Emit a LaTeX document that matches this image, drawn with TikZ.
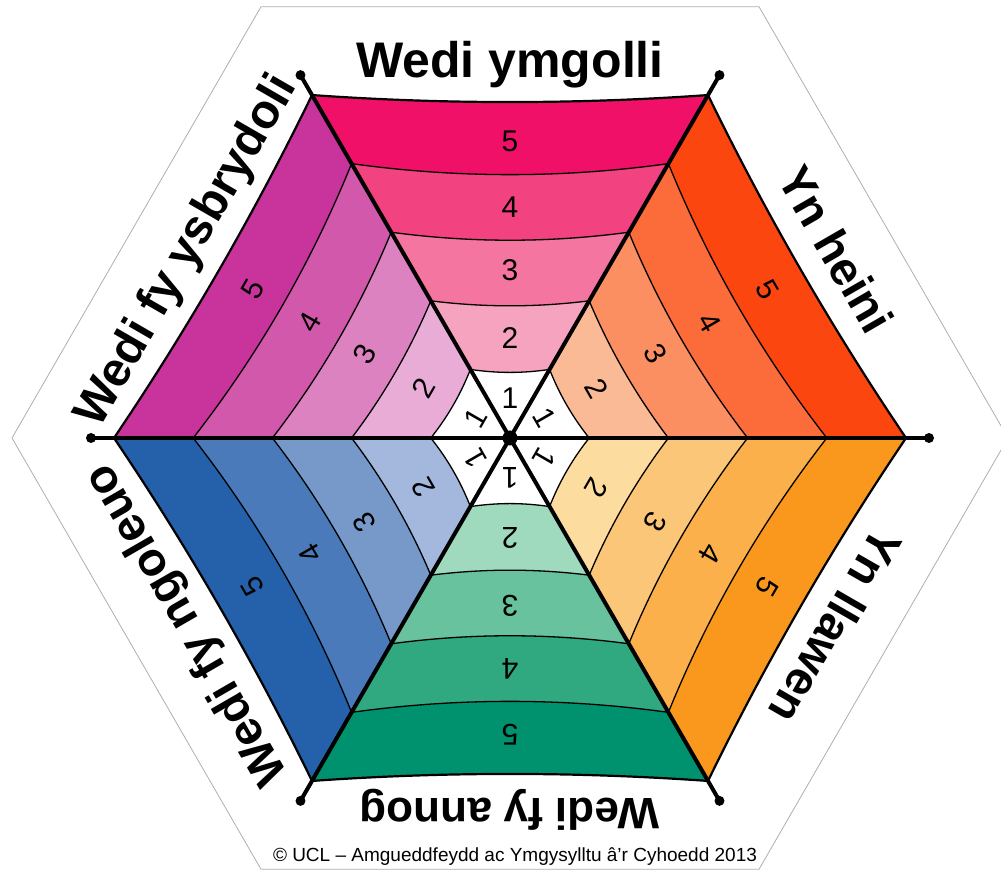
\documentclass[tikz,border=0pt]{standalone}
\usepackage{fontspec}
\setmainfont{Liberation Sans}
\usetikzlibrary{calc}
\definecolor{hexgray}{RGB}{175,175,175}
% sector 0: Yn heini
\definecolor{col05}{RGB}{252,70,16}
\definecolor{col04}{RGB}{252,108,58}
\definecolor{col03}{RGB}{251,143,98}
\definecolor{col02}{RGB}{250,186,150}
% sector 1: Wedi ymgolli
\definecolor{col15}{RGB}{240,16,104}
\definecolor{col14}{RGB}{242,66,128}
\definecolor{col13}{RGB}{243,117,160}
\definecolor{col12}{RGB}{246,163,192}
% sector 2: Wedi fy ysbrydoli
\definecolor{col25}{RGB}{200,52,156}
\definecolor{col24}{RGB}{210,88,172}
\definecolor{col23}{RGB}{220,130,192}
\definecolor{col22}{RGB}{232,172,215}
% sector 3: Wedi fy ngoleuo
\definecolor{col35}{RGB}{37,96,170}
\definecolor{col34}{RGB}{74,122,186}
\definecolor{col33}{RGB}{118,153,202}
\definecolor{col32}{RGB}{163,184,220}
% sector 4: Wedi fy annog
\definecolor{col45}{RGB}{0,145,110}
\definecolor{col44}{RGB}{48,168,128}
\definecolor{col43}{RGB}{104,194,158}
\definecolor{col42}{RGB}{160,218,190}
% sector 5: Yn llawen
\definecolor{col55}{RGB}{250,152,30}
\definecolor{col54}{RGB}{251,176,76}
\definecolor{col53}{RGB}{252,198,120}
\definecolor{col52}{RGB}{253,220,160}
\definecolor{col01}{RGB}{255,255,255}
\definecolor{col11}{RGB}{255,255,255}
\definecolor{col21}{RGB}{255,255,255}
\definecolor{col31}{RGB}{255,255,255}
\definecolor{col41}{RGB}{255,255,255}
\definecolor{col51}{RGB}{255,255,255}
\begin{document}
\begin{tikzpicture}[x=1pt,y=1pt,
  bandline/.style={line width=1.3pt, line join=round},
  rimline/.style={line width=2.2pt, line join=round},
  spokeline/.style={line width=4pt},
  dotnode/.style={circle, fill=black, inner sep=0pt, minimum size=10pt},
  centerdot/.style={circle, fill=black, inner sep=0pt, minimum size=15pt},
  numtext/.style={font=\fontsize{30}{30}\selectfont, inner sep=0pt},
  cattext/.style={inner sep=0pt, anchor=base},
  copytext/.style={font=\fontsize{19}{19}\selectfont, inner sep=0pt}
]
\useasboundingbox (-510,-434) rectangle (491,438);
\draw[line width=0.8pt, draw=hexgray, fill=white]
  (0:498) -- (60:498) -- (120:498) -- (180:498) -- (240:498) -- (300:498) -- cycle;

% fills
\foreach \i in {0,...,5}{
  \pgfmathsetmacro{\a}{60*\i}
  \pgfmathsetmacro{\b}{60*\i+60}
  \pgfmathsetmacro{\m}{60*\i+30}
  \foreach \k/\s in {5/7,4/11,3/8,2/5,1/3}{
    \pgfmathsetmacro{\r}{79.2*\k}
    \pgfmathsetmacro{\c}{\r*cos(30)-2*\s}
    \fill[col\i\k] (0,0) -- (\a:\r) .. controls ($(\a:\r)!2/3!(\m:\c)$) and ($(\b:\r)!2/3!(\m:\c)$) .. (\b:\r) -- cycle;
  }
  \foreach \k/\s in {1/3,2/5,3/8,4/11}{
    \pgfmathsetmacro{\r}{79.2*\k}
    \pgfmathsetmacro{\c}{\r*cos(30)-2*\s}
    \draw[bandline] (\a:\r) .. controls ($(\a:\r)!2/3!(\m:\c)$) and ($(\b:\r)!2/3!(\m:\c)$) .. (\b:\r);
  }
  \pgfmathsetmacro{\r}{396}
  \pgfmathsetmacro{\c}{\r*cos(30)-14}
  \draw[rimline] (\a:\r) .. controls ($(\a:\r)!2/3!(\m:\c)$) and ($(\b:\r)!2/3!(\m:\c)$) .. (\b:\r);
}

% spokes and dots
\foreach \i in {0,...,5}{
  \pgfmathsetmacro{\a}{60*\i}
  \coordinate (p\i) at (\a:419);
}
\draw[spokeline] (p0) -- (p3);
\draw[spokeline] (p1) -- (p4);
\draw[spokeline] (p2) -- (p5);
\foreach \i in {0,...,5}{
  \node[dotnode] (d\i) at (p\i) {};
}
\node[centerdot] (ctr) at (0,0) {};

% numbers
\foreach \i in {0,...,5}{
  \pgfmathsetmacro{\m}{60*\i+30}
  \pgfmathsetmacro{\rot}{60*\i-60}
  \foreach \k/\L in {1/40,2/100,3/168,4/231,5/297}{
    \node[numtext, rotate=\rot] (n\i\k) at (\m:\L) {\k};
  }
}

% category labels
\foreach \i/\t/\fs in {0/Yn heini/47,1/Wedi ymgolli/50,2/Wedi fy ysbrydoli/48,3/Wedi fy ngoleuo/47,4/Wedi fy annog/44,5/Yn llawen/47}{
  \pgfmathsetmacro{\m}{60*\i+30}
  \pgfmathsetmacro{\rot}{60*\i-60}
  \node[cattext, rotate=\rot, font=\bfseries\fontsize{\fs}{\fs}\selectfont] (lab\i) at (\m:360) {\t};
}

\node[copytext] (copy) at (5,-419) {© UCL – Amgueddfeydd ac Ymgysylltu â’r Cyhoedd 2013};
\end{tikzpicture}
\end{document}
